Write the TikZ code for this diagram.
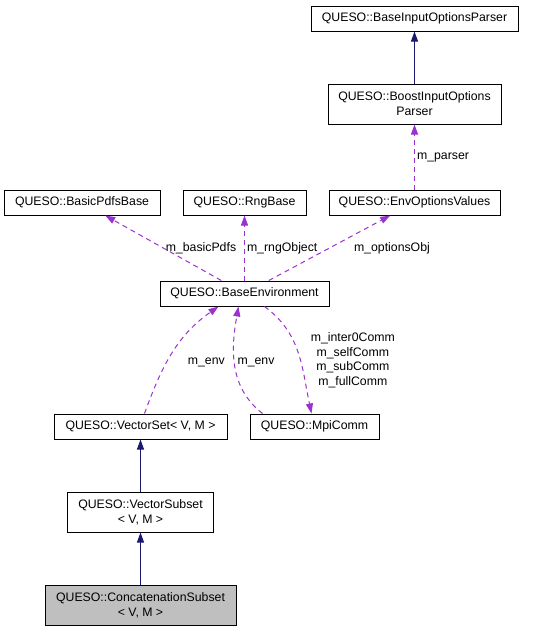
\documentclass[tikz,border=0pt]{standalone}
\usepackage{fontspec}
\setmainfont{Liberation Sans}
\usetikzlibrary{arrows.meta}
\definecolor{inhblue}{HTML}{191970}
\definecolor{usepurple}{HTML}{9A32CD}
\tikzstyle{cls} = [rectangle, draw = black, line width = 1pt, minimum height = 25pt, inner sep = 0pt, align = center, font = \fontsize{12.3}{15}\selectfont]
\tikzstyle{focus} = [cls, fill = black!25]
\tikzstyle{inh} = [draw = inhblue, line width = 1pt, -{Triangle[length = 10pt, width = 7pt]}]
\tikzstyle{use} = [draw = usepurple, line width = 1pt, dash pattern = on 5pt off 4pt, -{Triangle[length = 10pt, width = 7pt]}]
\tikzstyle{lbl} = [text = black, inner sep = 2pt, align = center, font = \fontsize{12.3}{14.7}\selectfont]
\begin{document}
\begin{tikzpicture}[x = 1pt, y = -1pt]
	\useasboundingbox (0,0) rectangle (541,632);
	\node (parser)[cls, minimum width = 207pt] at (414.5,18.5) {QUESO::BaseInputOptionsParser};
	\node (boost)[cls, minimum width = 173pt, minimum height = 40pt, node distance = 85.5pt, below of = parser]{QUESO::BoostInputOptions\\Parser};
	\node (envopt)[cls, minimum width = 171pt, node distance = 98.5pt, below of = boost]{QUESO::EnvOptionsValues};
	\node (rng)[cls, minimum width = 123pt, node distance = 170pt, left of = envopt]{QUESO::RngBase};
	\node (pdfs)[cls, minimum width = 156pt, node distance = 162.5pt, left of = rng]{QUESO::BasicPdfsBase};
	\node (baseenv)[cls, minimum width = 169pt, node distance = 91pt, below of = rng]{QUESO::BaseEnvironment};
	\node (vecset)[cls, minimum width = 173pt, node distance = 133pt, below of = baseenv, xshift = -104pt]{QUESO::VectorSet< V, M >};
	\node (mpi)[cls, minimum width = 129pt, node distance = 174pt, right of = vecset]{QUESO::MpiComm};
	\node (vecsub)[cls, minimum width = 146pt, minimum height = 40pt, node distance = 85.5pt, below of = vecset]{QUESO::VectorSubset\\< V, M >};
	\node (concat)[focus, minimum width = 191pt, minimum height = 40pt, node distance = 93pt, below of = vecsub]{QUESO::ConcatenationSubset\\< V, M >};

	\draw [inh] (boost) -- (parser);
	\draw [inh] (vecsub) -- (vecset);
	\draw [inh] (concat) -- (vecsub);

	\draw [use] (envopt) -- node[lbl, right] {m\_parser} (boost);
	\draw [use] (baseenv) -- node[lbl, right] {m\_basicPdfs} (pdfs);
	\draw [use] (baseenv) -- node[lbl, right] {m\_rngObject} (rng);
	\draw [use] (baseenv) -- node[lbl, right = 22pt] {m\_optionsObj} (envopt);
	\draw [use] ([xshift = 4pt]vecset.north) to[out = 70, in = -145] node[lbl, right = 13pt, yshift = -9pt] {m\_env} ([xshift = -26pt]baseenv.south);
	\draw [use] ([xshift = -52pt]mpi.north) to[out = 142, in = -100] node[lbl, right, yshift = 4pt] {m\_env} ([xshift = -6pt]baseenv.south);
	\draw [use] ([xshift = 20pt]baseenv.south) to[out = -36, in = 102] node[lbl, right = 10pt, yshift = -7pt] {m\_inter0Comm\\m\_selfComm\\m\_subComm\\m\_fullComm} ([xshift = -3pt]mpi.north);
\end{tikzpicture}
\end{document}
